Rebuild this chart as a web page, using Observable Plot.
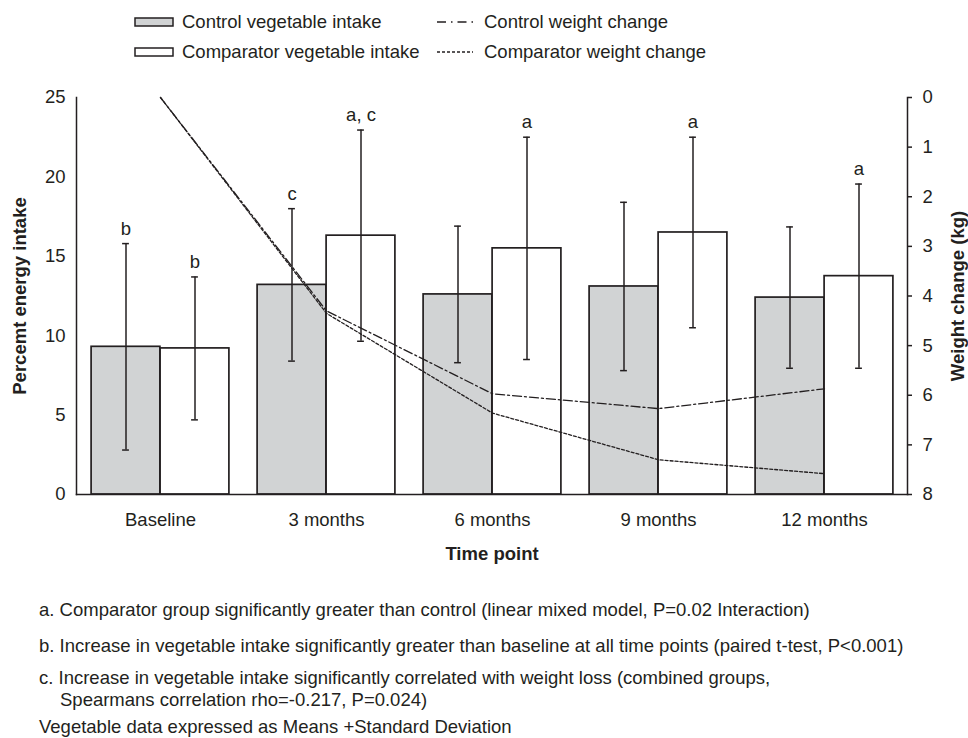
<!DOCTYPE html>
<html><head><meta charset="utf-8">
<script src="https://cdn.jsdelivr.net/npm/d3@7"></script>
<script src="https://cdn.jsdelivr.net/npm/@observablehq/plot@0.6"></script>
<style>
body{margin:0;background:#fff;font-family:"Liberation Sans",Arial,Helvetica,sans-serif;color:#231f20;}
#page{position:relative;width:968px;height:738px;overflow:hidden;}
.abs{position:absolute;white-space:nowrap;font-size:18.5px;line-height:20px;}
#chart{position:absolute;left:0;top:70px;}
</style></head><body>
<div id="page">
  <div id="legend"></div>
  <div id="chart"></div>
  <div id="notes"></div>
</div>
<script>
// ---- data ----
const timePoints = ["Baseline", "3 months", "6 months", "9 months", "12 months"];
const controlIntake = [9.3, 13.2, 12.6, 13.1, 12.4];
const controlSD = [6.5, 4.8, 4.3, 5.3, 4.45];
const comparatorIntake = [9.2, 16.3, 15.5, 16.5, 13.75];
const comparatorSD = [4.5, 6.65, 7.0, 6.0, 5.8];
const controlLetters = ["b", "c", "", "", ""];
const comparatorLetters = ["b", "a, c", "a", "a", "a"];
const controlWeight = [0, 4.3, 5.97, 6.27, 5.87];
const comparatorWeight = [0, 4.35, 6.36, 7.3, 7.58];
const leftTicks = [0, 5, 10, 15, 20, 25];
const rightTicks = [0, 1, 2, 3, 4, 5, 6, 7, 8];
const legendLabels = ["Control vegetable intake", "Comparator vegetable intake", "Control weight change", "Comparator weight change"];
const notes = [
  "a. Comparator group significantly greater than control (linear mixed model, P=0.02 Interaction)",
  "b. Increase in vegetable intake significantly greater than baseline at all time points (paired t-test, P<0.001)",
  "c. Increase in vegetable intake significantly correlated with weight loss (combined groups,",
  "Spearmans correlation rho=-0.217, P=0.024)",
  "Vegetable data expressed as Means +Standard Deviation"
];

// ---- build ----
const ink = "#231f20";
const grayFill = "#d1d3d4";
const FS = 18.5;
const W = 968, ml = 76, mr = 61;
const bw = (W - ml - mr) / timePoints.length;
const barW = 69, capHalf = 3.5;
const Ymax = 25, Kmax = 8;
const toY = k => Ymax - k * Ymax / Kmax;

const control = timePoints.map((t, i) => ({time: t, mean: controlIntake[i], sd: controlSD[i], letter: controlLetters[i], w: controlWeight[i]}));
const comparator = timePoints.map((t, i) => ({time: t, mean: comparatorIntake[i], sd: comparatorSD[i], letter: comparatorLetters[i], w: comparatorWeight[i]}));

const ctrlInset = {insetLeft: bw / 2 - barW, insetRight: bw / 2};
const compInset = {insetLeft: bw / 2, insetRight: bw / 2 - barW};
const ctrlCap = {insetLeft: bw / 2 - barW / 2 - capHalf, insetRight: bw / 2 + barW / 2 - capHalf};
const compCap = {insetLeft: bw / 2 + barW / 2 - capHalf, insetRight: bw / 2 - barW / 2 - capHalf};

const chart = Plot.plot({
  width: W, height: 505,
  marginLeft: ml, marginRight: mr, marginTop: 27, marginBottom: 81,
  style: {fontFamily: '"Liberation Sans", Arial, sans-serif', fontSize: FS + "px", color: ink, background: "#fff", overflow: "visible"},
  x: {domain: timePoints, padding: 0, label: null},
  y: {domain: [0, Ymax], label: null},
  marks: [
    Plot.barY(control, {x: "time", y: "mean", fill: grayFill, stroke: ink, strokeWidth: 1.7, ...ctrlInset}),
    Plot.barY(comparator, {x: "time", y: "mean", fill: "#fff", stroke: ink, strokeWidth: 1.7, ...compInset}),
    Plot.ruleX(control, {x: "time", y1: d => d.mean - d.sd, y2: d => d.mean + d.sd, dx: -barW / 2, stroke: ink, strokeWidth: 1.5}),
    Plot.ruleX(comparator, {x: "time", y1: d => d.mean - d.sd, y2: d => d.mean + d.sd, dx: barW / 2, stroke: ink, strokeWidth: 1.5}),
    Plot.tickY(control, {x: "time", y: d => d.mean + d.sd, stroke: ink, strokeWidth: 1.5, ...ctrlCap}),
    Plot.tickY(control, {x: "time", y: d => d.mean - d.sd, stroke: ink, strokeWidth: 1.5, ...ctrlCap}),
    Plot.tickY(comparator, {x: "time", y: d => d.mean + d.sd, stroke: ink, strokeWidth: 1.5, ...compCap}),
    Plot.tickY(comparator, {x: "time", y: d => d.mean - d.sd, stroke: ink, strokeWidth: 1.5, ...compCap}),
    Plot.text(control, {x: "time", y: d => d.mean + d.sd, text: "letter", dx: -barW / 2, dy: -15, fill: ink, fontSize: FS}),
    Plot.text(comparator, {x: "time", y: d => d.mean + d.sd, text: "letter", dx: barW / 2, dy: -15, fill: ink, fontSize: FS}),
    Plot.line(control, {x: "time", y: d => toY(d.w), stroke: ink, strokeWidth: 1.3, strokeDasharray: "9,3,2,3"}),
    Plot.line(comparator, {x: "time", y: d => toY(d.w), stroke: ink, strokeWidth: 1.3, strokeDasharray: "3,2"}),
    Plot.frame({anchor: "left", stroke: ink, strokeWidth: 1.5}),
    Plot.frame({anchor: "right", stroke: ink, strokeWidth: 1.5}),
    Plot.frame({anchor: "bottom", stroke: ink, strokeWidth: 1.5}),
    Plot.axisY({ticks: leftTicks, tickSize: 0, tickPadding: 11, label: null, fill: ink, fontSize: FS}),
    Plot.axisY({anchor: "right", ticks: rightTicks.map(toY), tickFormat: y => String(Math.round((Ymax - y) * Kmax / Ymax)), tickSize: 4, tickPadding: 11, label: null, stroke: ink, strokeWidth: 1.5, fill: ink, fontSize: FS}),
    Plot.axisX({tickSize: 0, tickPadding: 18, label: null, fill: ink, fontSize: FS}),
    Plot.text(["Time point"], {text: d => d, frameAnchor: "bottom", dy: 65, fontWeight: "bold", fill: ink, fontSize: FS}),
    Plot.text(["Percemt energy intake"], {text: d => d, frameAnchor: "left", textAnchor: "middle", dx: -56, rotate: -90, fontWeight: "bold", fill: ink, fontSize: FS}),
    Plot.text(["Weight change (kg)"], {text: d => d, frameAnchor: "right", textAnchor: "middle", dx: 51, rotate: -90, fontWeight: "bold", fill: ink, fontSize: FS})
  ]
});
document.getElementById("chart").appendChild(chart);

// legend
const legend = document.getElementById("legend");
function swatch(x, yc, fill) {
  return `<svg class="abs" style="left:${x}px;top:${yc - 6}px" width="42" height="12"><rect x="1" y="2" width="38" height="8" fill="${fill}" stroke="${ink}" stroke-width="1.5"/></svg>`;
}
function lineSample(x, yc, dash) {
  return `<svg class="abs" style="left:${x}px;top:${yc - 6}px" width="38" height="12"><line x1="0" x2="36" y1="6" y2="6" stroke="${ink}" stroke-width="1.3" stroke-dasharray="${dash}"/></svg>`;
}
function label(x, yc, txt) {
  return `<div class="abs" style="left:${x}px;top:${yc - 10}px">${txt}</div>`;
}
legend.innerHTML =
  swatch(134, 22, grayFill) + label(182, 22, legendLabels[0]) +
  swatch(134, 52, "#fff") + label(182, 52, legendLabels[1]) +
  lineSample(437, 22, "9,5,1.5,5") + label(484, 22, legendLabels[2]) +
  lineSample(437, 52, "3,2") + label(484, 52, legendLabels[3]);

// notes
const esc = s => s.replace(/&/g, "&amp;").replace(/</g, "&lt;");
const noteCenters = [610, 646, 678, 700, 727];
const noteLeft = [39, 39, 39, 60, 39];
document.getElementById("notes").innerHTML = notes.map((n, i) =>
  `<div class="abs" style="left:${noteLeft[i]}px;top:${noteCenters[i] - 10}px">${esc(n)}</div>`).join("");
</script>
</body></html>
